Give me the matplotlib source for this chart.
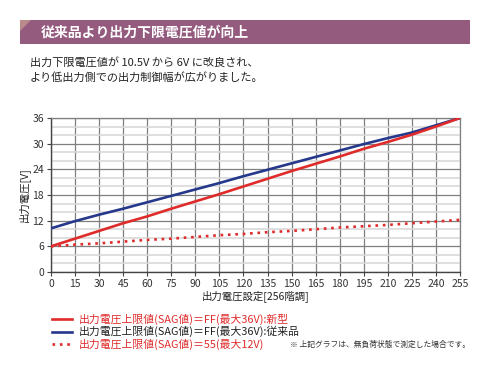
import matplotlib.pyplot as plt
import numpy as np
from matplotlib.patches import Rectangle, Polygon
from matplotlib.lines import Line2D

plt.rcParams['font.family'] = ['Noto Sans CJK JP', 'DejaVu Sans']

# data (every 15 steps)
setting = [0, 15, 30, 45, 60, 75, 90, 105, 120, 135, 150, 165, 180, 195, 210, 225, 240, 255]
new_ff = [6.0, 7.8, 9.6, 11.4, 13.0, 14.8, 16.5, 18.2, 20.0, 21.8, 23.6, 25.3,
          27.0, 28.8, 30.4, 32.1, 34.0, 36.0]
old_ff = [10.2, 11.9, 13.4, 14.8, 16.3, 17.8, 19.3, 20.8, 22.4, 23.9, 25.4, 26.9,
          28.4, 29.9, 31.3, 32.6, 34.3, 36.0]
new_55 = [6.0, 6.4, 6.7, 7.1, 7.5, 7.8, 8.2, 8.6, 8.9, 9.3, 9.6, 10.0,
          10.4, 10.7, 11.0, 11.4, 11.8, 12.2]

labels = ['出力電圧上限値(SAG値)＝FF(最大36V):新型',
          '出力電圧上限値(SAG値)＝FF(最大36V):従来品',
          '出力電圧上限値(SAG値)＝55(最大12V)']

RED = '#e02b2b'
BLUE = '#25388c'

W, H = 490, 370
fig = plt.figure(figsize=(W / 100, H / 100), dpi=100)


def fx(px):
    return px / W


def fy(py):
    return 1 - py / H


# header bar
fig.add_artist(Rectangle((fx(20), fy(44)), fx(450), 24 / H, transform=fig.transFigure,
                         facecolor='#955b7f', edgecolor='none'))
fig.add_artist(Polygon([(fx(20), fy(20)), (fx(31), fy(20)), (fx(20), fy(31))],
                       closed=True, transform=fig.transFigure,
                       facecolor='#b88a8a', edgecolor='none'))
fig.text(fx(41), fy(33), '従来品より出力下限電圧値が向上', color='white',
         fontsize=10, fontweight='bold', va='center', ha='left')

fig.text(fx(30), fy(62), '出力下限電圧値が 10.5V から 6V に改良され、',
         fontsize=8, va='center', color='#222222')
fig.text(fx(30), fy(77), 'より低出力側での出力制御幅が広がりました。',
         fontsize=8, va='center', color='#222222')

# chart
ax = fig.add_axes([fx(51), fy(272), fx(460) - fx(51), (272 - 118) / H])
ax.plot(setting, new_55, color=RED, lw=1.9, linestyle=(0, (1, 1.8)), zorder=3)
ax.plot(setting, old_ff, color=BLUE, lw=1.9, zorder=4)
ax.plot(setting, new_ff, color=RED, lw=1.9, zorder=4)

ax.set_xlim(0, 255)
ax.set_ylim(0, 36)
ax.set_xticks(np.arange(0, 256, 15))
ax.set_yticks(np.arange(0, 37, 6))
ax.set_yticks(np.arange(0, 37, 2), minor=True)
ax.grid(which='minor', axis='y', color='#d9d9d9', lw=1.2)
ax.grid(which='major', axis='both', color='#7f7f7f', lw=0.9)
ax.set_axisbelow(True)
for s in ['top', 'right']:
    ax.spines[s].set_color('#7f7f7f')
    ax.spines[s].set_linewidth(0.9)
for s in ['left', 'bottom']:
    ax.spines[s].set_color('#444444')
    ax.spines[s].set_linewidth(1.0)
ax.tick_params(axis='both', which='major', labelsize=7.5, colors='#444444',
               labelcolor='#333333', length=3, width=0.8, pad=2)
ax.tick_params(axis='y', which='minor', length=0)
ax.set_xlabel('出力電圧設定[256階調]', fontsize=7.5, color='#222222', labelpad=1)
ax.set_ylabel('出力電圧[V]', fontsize=7.5, color='#222222', labelpad=2)

# legend
styles = [dict(color=RED, lw=1.9), dict(color=BLUE, lw=1.9),
          dict(color=RED, lw=1.9, linestyle=(0, (1, 1.8)))]
text_colors = [RED, '#222222', RED]
for i, (lab, st, tc) in enumerate(zip(labels, styles, text_colors)):
    yy = 319 + i * 12.5
    fig.add_artist(Line2D([fx(52), fx(72)], [fy(yy), fy(yy)],
                          transform=fig.transFigure, **st))
    fig.text(fx(79), fy(yy), lab, fontsize=7.8, color=tc, va='center', ha='left')

fig.text(fx(290), fy(345), '※ 上記グラフは、無負荷状態で測定した場合です。',
         fontsize=5.6, color='#333333', va='center', ha='left')

fig.savefig('out.png', dpi=100)
